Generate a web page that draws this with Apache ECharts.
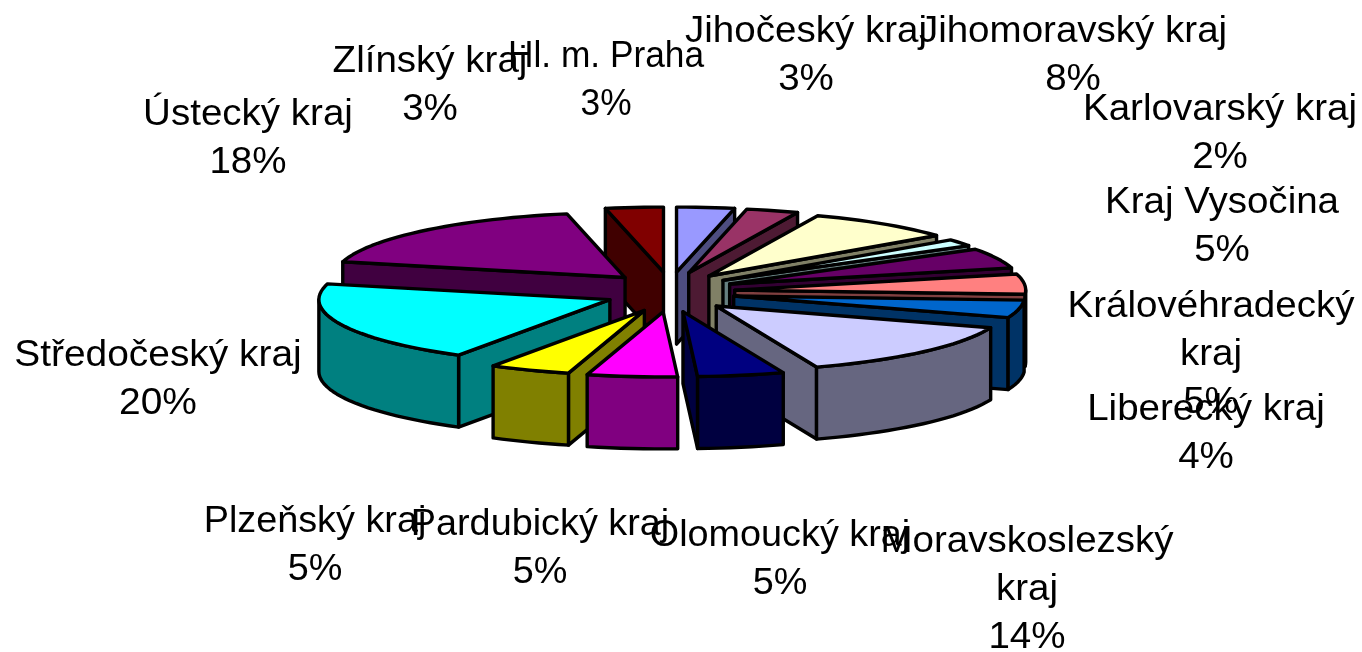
<!DOCTYPE html>
<html><head><meta charset="utf-8">
<style>html,body{margin:0;padding:0;background:#fff}#c{width:1362px;height:652px}</style>
<script src="https://cdn.jsdelivr.net/npm/echarts@6/dist/echarts.min.js"></script>
</head><body><div id="c"></div>
<script>
const regions = ['Hl. m. Praha','Jihočeský kraj','Jihomoravský kraj','Karlovarský kraj','Kraj Vysočina','Královéhradecký\nkraj','Liberecký kraj','Moravskoslezský\nkraj','Olomoucký kraj','Pardubický kraj','Plzeňský kraj','Středočeský kraj','Ústecký kraj','Zlínský kraj'];
const shares = [3.2,2.9,8.2,1.7,5,5,4.4,14,4.8,5,4.5,20.2,17.9,3.2];
const colors = ['#9999FF','#993366','#FFFFCC','#CCFFFF','#660066','#FF8080','#0066CC','#CCCCFF','#000080','#FF00FF','#FFFF00','#00FFFF','#800080','#800000'];
const sideColors = ['#4D4D80','#4D1A33','#808066','#668080','#330033','#804040','#003366','#666680','#000040','#800080','#808000','#008080','#400040','#400000'];
// label anchors: centre x, first-line centre y, horizontal text stretch
const labelX = [606,806,1073,1220,1222,1211,1206,1027,780,540,315,158,248,430];
const labelY = [57,32,32,110,203,307,410,542,536,525,522,356,115,62];
const labelStretch = [0.98,1.07,1.07,1.07,1.07,1.07,1.07,1.07,1.05,1.05,1.05,1.08,1.07,1.07];
const pie = {cx:670, cy:292, rx:291, ry:65, ex:65, ey:20, h:72};
const LH = 48;

const total = shares.reduce((a,b)=>a+b,0);
let acc = 0;
const slices = shares.map(v=>{const a=acc/total*Math.PI*2; acc+=v; return {a, b:acc/total*Math.PI*2};});
const rank = {};
slices.map((s,i)=>({i,d:-Math.cos((s.a+s.b)/2)})).sort((p,q)=>p.d-q.d).forEach((o,r)=>{rank[o.i]=r;});

function renderSlice(params, api){
  const i = api.value(0), s = slices[i], m=(s.a+s.b)/2;
  const ax = pie.cx+pie.ex*Math.sin(m), ay = pie.cy-pie.ey*Math.cos(m);
  const pt = t=>[ax+pie.rx*Math.sin(t), ay-pie.ry*Math.cos(t)];
  const down = p=>[p[0],p[1]+pie.h];
  const arc=(a,b)=>{const n=Math.max(2,Math.ceil((b-a)/0.04)),r=[];for(let k=0;k<=n;k++)r.push(pt(a+(b-a)*k/n));return r;};
  const z = rank[i]*10, line={stroke:'#000',lineWidth:3.4,lineJoin:'round'};
  const kids=[];
  const wall=(t,zz)=>{const p=pt(t);kids.push({type:'polygon',z2:z+zz,shape:{points:[[ax,ay],p,down(p),[ax,ay+pie.h]]},style:{fill:sideColors[i],...line}});};
  if(Math.sin(s.a)<-1e-6) wall(s.a,1);
  if(Math.sin(s.b)>1e-6) wall(s.b,2);
  const lo=Math.max(s.a,Math.PI/2), hi=Math.min(s.b,Math.PI*1.5);
  if(hi>lo){const top=arc(lo,hi);kids.push({type:'polygon',z2:z+3,shape:{points:top.concat(top.slice().reverse().map(down))},style:{fill:sideColors[i],...line}});}
  kids.push({type:'polygon',z2:z+4,shape:{points:[[ax,ay]].concat(arc(s.a,s.b))},style:{fill:colors[i],...line}});
  return {type:'group',children:kids};
}
function renderLabel(params, api){
  const i=api.value(0);
  return {type:'text',z2:1000+i,x:labelX[i],y:labelY[i]-LH/2,scaleX:labelStretch[i],style:{x:0,y:0,text:regions[i]+'\n'+Math.round(shares[i])+'%',fill:'#000',
    font:'36px "Liberation Sans", Arial, sans-serif',align:'center',verticalAlign:'top',lineHeight:LH}};
}
const chart = echarts.init(document.getElementById('c'),null,{renderer:'canvas'});
const idx = shares.map((_,i)=>[i]);
chart.setOption({animation:false,backgroundColor:'#fff',series:[
 {type:'custom',coordinateSystem:'none',silent:true,renderItem:renderSlice,data:idx},
 {type:'custom',coordinateSystem:'none',silent:true,renderItem:renderLabel,data:idx,z:5}
]});
</script></body></html>
